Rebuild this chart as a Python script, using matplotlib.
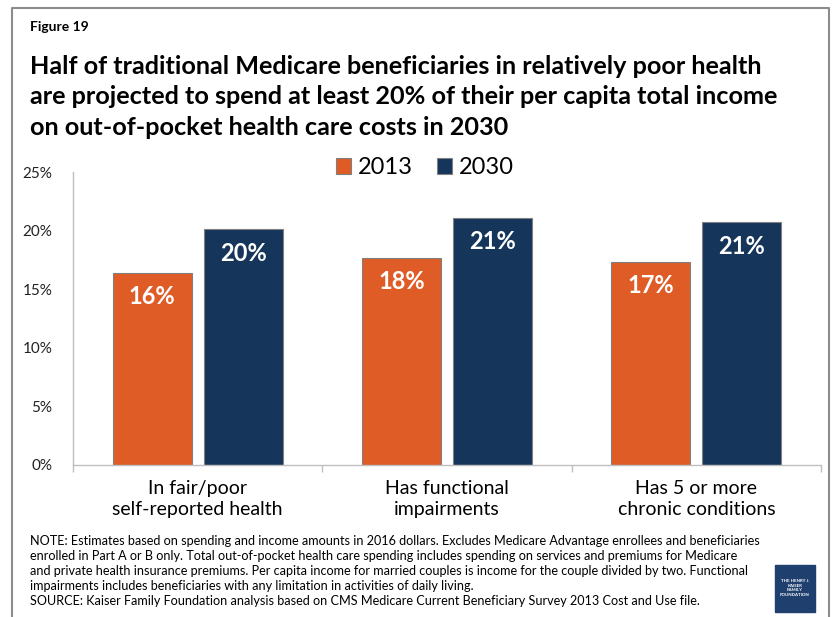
import numpy as np
import matplotlib.pyplot as plt
from matplotlib.lines import Line2D
from matplotlib.patches import Rectangle

# share of per capita income spent out-of-pocket on health care (%)
categories = ['In fair/poor\nself-reported health', 'Has functional\nimpairments',
              'Has 5 or more\nchronic conditions']
years = ['2013', '2030']
share_2013 = [16.4, 17.7, 17.3]
share_2030 = [20.1, 21.1, 20.7]
yticks = [0, 5, 10, 15, 20, 25]

fig_label = 'Figure 19'
title = ('Half of traditional Medicare beneficiaries in relatively poor health\n'
         'are projected to spend at least 20% of their per capita total income\n'
         'on out-of-pocket health care costs in 2030')
note = ('NOTE: Estimates based on spending and income amounts in 2016 dollars. Excludes Medicare Advantage enrollees and beneficiaries\n'
        'enrolled in Part A or B only. Total out-of-pocket health care spending includes spending on services and premiums for Medicare\n'
        'and private health insurance premiums. Per capita income for married couples is income for the couple divided by two. Functional\n'
        'impairments includes beneficiaries with any limitation in activities of daily living.\n'
        'SOURCE: Kaiser Family Foundation analysis based on CMS Medicare Current Beneficiary Survey 2013 Cost and Use file.')

orange = '#E05C27'
navy = '#15355A'
W, H = 833, 617

plt.rcParams['font.family'] = ['Lato', 'DejaVu Sans']

def fx(px):
    return px / W

def fy(py):
    return 1 - py / H

fig = plt.figure(figsize=(W / 100, H / 100), dpi=100)

# gray frame around the figure (open at the bottom)
fig.add_artist(Line2D([fx(12), fx(12), fx(829), fx(829)],
                      [0, fy(8), fy(8), 0], transform=fig.transFigure,
                      color='#8c8c8c', lw=1.5))

fig.text(fx(30), fy(27), fig_label, fontsize=10, fontweight='bold', va='center')
fig.text(fx(30), fy(97), title, fontsize=18.2, fontweight='bold', va='center',
         linespacing=1.42)

ax = fig.add_axes([fx(73), fy(465), fx(821) - fx(73), (465 - 172) / H])
x = np.arange(len(categories))
bw = 0.317
off = bw / 2 + 0.024
b1 = ax.bar(x - off, share_2013, bw, color=orange, edgecolor='#808080', lw=0.8, label=years[0])
b2 = ax.bar(x + off, share_2030, bw, color=navy, edgecolor='#808080', lw=0.8, label=years[1])

for bars in (b1, b2):
    for r in bars:
        v = r.get_height()
        ax.annotate('{:.0f}%'.format(v), (r.get_x() + r.get_width() / 2, v),
                    xytext=(0, -17), textcoords='offset points', ha='center',
                    va='center', color='white', fontsize=17, fontweight='bold')

ax.set_xlim(-0.5, len(categories) - 0.5)
ax.set_ylim(0, 25)
ax.set_yticks(yticks)
ax.set_yticklabels(['{}%'.format(t) for t in yticks], fontsize=11, color='#222222')
ax.tick_params(axis='y', length=0, pad=15)

ax.set_xticks(x)
ax.set_xticklabels(categories, fontsize=14, linespacing=1.3)
ax.set_xticks(np.arange(len(categories) + 1) - 0.5, minor=True)
ax.tick_params(axis='x', which='major', length=0, pad=11)
ax.tick_params(axis='x', which='minor', length=5, color='#BFBFBF', width=1)

for s in ['top', 'right']:
    ax.spines[s].set_visible(False)
for s in ['left', 'bottom']:
    ax.spines[s].set_color('#BFBFBF')
    ax.spines[s].set_linewidth(1)

fig.legend(handles=[b1, b2], labels=years, loc='center', ncol=2,
           bbox_to_anchor=(fx(425), fy(168)), frameon=False, fontsize=17,
           handlelength=0.65, handleheight=0.65, handletextpad=0.3,
           columnspacing=1.0)

fig.text(fx(30), fy(571), note, fontsize=9.1, va='center', linespacing=1.3)

# foundation logo block
fig.add_artist(Rectangle((fx(775), fy(612)), fx(815) - fx(775), (612 - 565) / H,
                         transform=fig.transFigure, color='#1F3F6E'))
fig.text(fx(795), fy(588), 'THE HENRY J.\nKAISER\nFAMILY\nFOUNDATION', color='white',
         fontsize=3.2, fontweight='bold', ha='center', va='center', linespacing=1.3)

plt.savefig('out.png', dpi=100)
